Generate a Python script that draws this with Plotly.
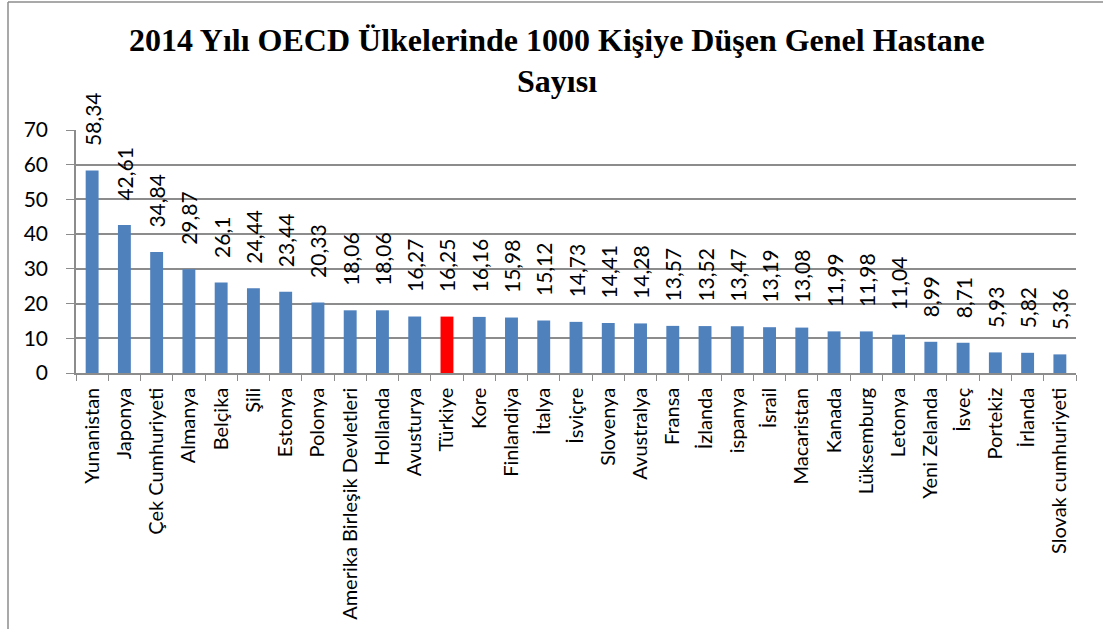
import plotly.graph_objects as go

# 2014 OECD - 1000 kisiye dusen genel hastane sayisi
ulkeler = ["Yunanistan", "Japonya", "Çek Cumhuriyeti", "Almanya", "Belçika", "Şili", "Estonya",
           "Polonya", "Amerika Birleşik Devletleri", "Hollanda", "Avusturya", "Türkiye", "Kore",
           "Finlandiya", "İtalya", "İsviçre", "Slovenya", "Avustralya", "Fransa", "İzlanda",
           "ispanya", "İsrail", "Macaristan", "Kanada", "Lüksemburg", "Letonya", "Yeni Zelanda",
           "İsveç", "Portekiz", "İrlanda", "Slovak cumhuriyeti"]
degerler = [58.34, 42.61, 34.84, 29.87, 26.1, 24.44, 23.44, 20.33, 18.06, 18.06, 16.27, 16.25,
            16.16, 15.98, 15.12, 14.73, 14.41, 14.28, 13.57, 13.52, 13.47, 13.19, 13.08, 11.99,
            11.98, 11.04, 8.99, 8.71, 5.93, 5.82, 5.36]
vurgu = "Türkiye"
y_ticks = [0, 10, 20, 30, 40, 50, 60, 70]

renkler = ["#FF0000" if u == vurgu else "#4F81BD" for u in ulkeler]
etiketler = ["\u00a0\u00a0\u00a0\u00a0" + f"{v:g}".replace(".", ",") for v in degerler]

grid = "#8C8C8C"
baslik_font = dict(family="Liberation Serif", size=32, color="black")

fig = go.Figure()
fig.add_trace(go.Bar(
    x=ulkeler,
    y=degerler,
    marker=dict(color=renkler, line=dict(width=0)),
    text=etiketler,
    textposition="outside",
    textangle=-90,
    constraintext="none",
    cliponaxis=False,
    textfont=dict(family="Lato", size=21, color="black"),
))

# cerceve (sol ve ust kenar)
fig.add_shape(type="line", xref="paper", yref="paper", x0=-0.068, x1=-0.068, y0=1.527, y1=-1.06,
              line=dict(color=grid, width=1.5))
fig.add_shape(type="line", xref="paper", yref="paper", x0=-0.068, x1=1.03, y0=1.527, y1=1.527,
              line=dict(color=grid, width=1.5))

# baslik (iki satir)
fig.add_annotation(text="<b>2014 Yılı OECD Ülkelerinde 1000 Kişiye Düşen Genel Hastane</b>",
                   xref="paper", yref="paper", x=0.4805, y=1.29, xanchor="center", yanchor="bottom",
                   showarrow=False, font=baslik_font)
fig.add_annotation(text="<b>Sayısı</b>",
                   xref="paper", yref="paper", x=0.4805, y=1.12, xanchor="center", yanchor="bottom",
                   showarrow=False, font=baslik_font)

fig.update_layout(
    width=1103, height=629,
    margin=dict(l=76, r=27, t=130, b=256),
    paper_bgcolor="white", plot_bgcolor="white",
    showlegend=False,
    bargap=0.6,
    xaxis=dict(
        tickangle=-90, tickfont=dict(family="Lato", size=20, color="black"),
        showline=True, linecolor=grid, linewidth=1.5,
        ticks="outside", tickson="boundaries", ticklen=6, tickcolor=grid,
        ticklabelstandoff=5,
        showgrid=False, automargin=False,
    ),
    yaxis=dict(
        range=[0, 70], tickvals=y_ticks,
        tickfont=dict(family="Lato", size=21, color="black"),
        showgrid=True, gridcolor=grid, gridwidth=1.5,
        showline=True, linecolor=grid, linewidth=1.5,
        ticks="outside", ticklen=8, tickcolor=grid,
        ticklabelstandoff=14,
        zeroline=False, automargin=False,
    ),
)

fig.write_html("out.html", config={"displayModeBar": False},
               post_script="document.body.style.margin='0';")
